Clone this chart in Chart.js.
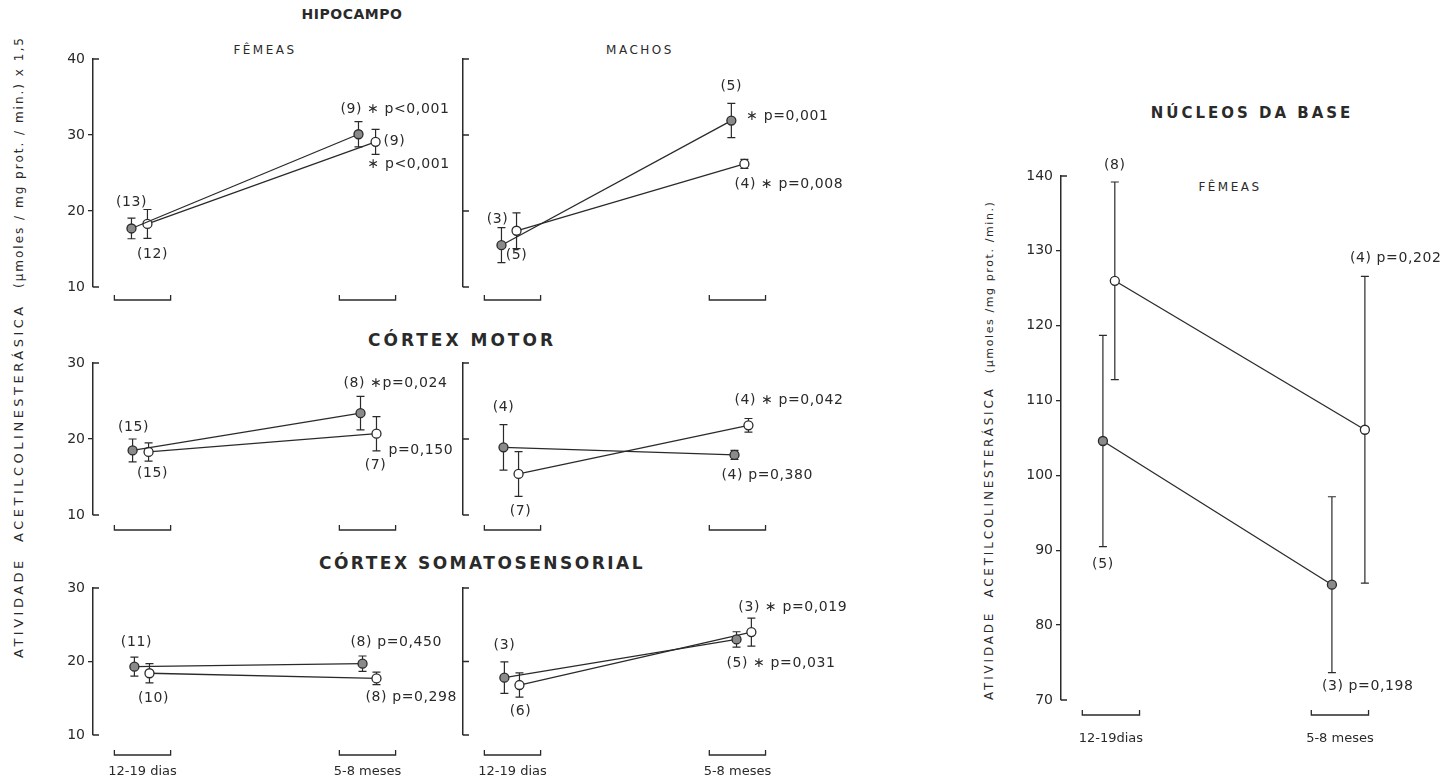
<!DOCTYPE html>
<html>
<head>
<meta charset="utf-8">
<script src="https://cdn.jsdelivr.net/npm/chart.js@4.4.0/dist/chart.umd.min.js"></script>
<style>
  body { margin: 0; background: #fff; width: 1448px; height: 783px; position: relative; overflow: hidden;
         font-family: "DejaVu Sans", sans-serif; color: #2a2a2a; }
  .titulo { position: absolute; transform: translate(-50%, -50%); white-space: nowrap; }
  .forte { font-weight: bold; }
  .eixo { position: absolute; transform-origin: 0 0; transform: rotate(-90deg); white-space: nowrap; }
</style>
</head>
<body>
<div class="titulo forte" style="left:352px;top:14px;font-size:14px;letter-spacing:0.5px">HIPOCAMPO</div>
<div class="titulo" style="left:265px;top:50px;font-size:12px;letter-spacing:2.5px">FÊMEAS</div>
<div class="titulo" style="left:640px;top:50px;font-size:12px;letter-spacing:2.5px">MACHOS</div>
<div class="titulo forte" style="left:462px;top:340px;font-size:17px;letter-spacing:3px">CÓRTEX MOTOR</div>
<div class="titulo forte" style="left:482px;top:563px;font-size:17px;letter-spacing:2.5px">CÓRTEX SOMATOSENSORIAL</div>
<div class="titulo forte" style="left:1252px;top:113px;font-size:15px;letter-spacing:3px">NÚCLEOS DA BASE</div>
<div class="titulo" style="left:1230px;top:187px;font-size:12px;letter-spacing:2.5px">FÊMEAS</div>
<div class="eixo" style="left:11px;top:658px;font-size:13px;letter-spacing:3.5px">ATIVIDADE&nbsp;&nbsp;ACETILCOLINESTERÁSICA&nbsp;&nbsp;<span style="font-size:12px;letter-spacing:2px">(µmoles / mg prot. / min.) x 1,5</span></div>
<div class="eixo" style="left:982px;top:700px;font-size:12px;letter-spacing:2.8px">ATIVIDADE&nbsp;&nbsp;ACETILCOLINESTERÁSICA&nbsp;&nbsp;<span style="font-size:11px;letter-spacing:1.6px">(µmoles /mg prot. /min.)</span></div>
<script>
// Idades (grupos do eixo x)
const idades = ['12-19 dias', '5-8 meses'];
const idadesNucleos = ['12-19dias', '5-8 meses'];

// Marcas dos eixos y
const ticksHipocampo = [10, 20, 30, 40];
const ticksCortex = [10, 20, 30];
const ticksNucleos = [70, 80, 90, 100, 110, 120, 130, 140];

// Hipocampo - fêmeas (cheio = círculo preenchido, aberto = círculo vazio)
const hipFemCheio = [17.7, 30.1];
const hipFemCheioEp = [1.35, 1.65];
const hipFemCheioN = [13, 9];
const hipFemCheioP = ['', '∗ p<0,001'];
const hipFemAberto = [18.3, 29.1];
const hipFemAbertoEp = [1.9, 1.65];
const hipFemAbertoN = [12, 9];
const hipFemAbertoP = ['', '∗ p<0,001'];

// Hipocampo - machos
const hipMacCheio = [15.5, 31.9];
const hipMacCheioEp = [2.3, 2.25];
const hipMacCheioN = [5, 5];
const hipMacCheioP = ['', '∗ p=0,001'];
const hipMacAberto = [17.4, 26.2];
const hipMacAbertoEp = [2.35, 0.6];
const hipMacAbertoN = [3, 4];
const hipMacAbertoP = ['', '∗ p=0,008'];

// Córtex motor - fêmeas
const motFemCheio = [18.5, 23.4];
const motFemCheioEp = [1.5, 2.2];
const motFemCheioN = [15, 8];
const motFemCheioP = ['', '∗p=0,024'];
const motFemAberto = [18.3, 20.7];
const motFemAbertoEp = [1.2, 2.25];
const motFemAbertoN = [15, 7];
const motFemAbertoP = ['', 'p=0,150'];

// Córtex motor - machos
const motMacCheio = [18.9, 17.9];
const motMacCheioEp = [3.0, 0.6];
const motMacCheioN = [4, 4];
const motMacCheioP = ['', 'p=0,380'];
const motMacAberto = [15.4, 21.8];
const motMacAbertoEp = [2.95, 0.9];
const motMacAbertoN = [7, 4];
const motMacAbertoP = ['', '∗ p=0,042'];

// Córtex somatosensorial - fêmeas
const somFemCheio = [19.3, 19.7];
const somFemCheioEp = [1.3, 1.05];
const somFemCheioN = [11, 8];
const somFemCheioP = ['', 'p=0,450'];
const somFemAberto = [18.4, 17.7];
const somFemAbertoEp = [1.3, 0.85];
const somFemAbertoN = [10, 8];
const somFemAbertoP = ['', 'p=0,298'];

// Córtex somatosensorial - machos
const somMacCheio = [17.8, 23.0];
const somMacCheioEp = [2.15, 1.05];
const somMacCheioN = [3, 5];
const somMacCheioP = ['', '∗ p=0,031'];
const somMacAberto = [16.8, 24.0];
const somMacAbertoEp = [1.65, 1.9];
const somMacAbertoN = [6, 3];
const somMacAbertoP = ['', '∗ p=0,019'];

// Núcleos da base - fêmeas
const nucCheio = [104.6, 85.4];
const nucCheioEp = [14.1, 11.75];
const nucCheioN = [5, 3];
const nucCheioP = ['', 'p=0,198'];
const nucAberto = [126.0, 106.1];
const nucAbertoEp = [13.2, 20.5];
const nucAbertoN = [8, 4];
const nucAbertoP = ['', 'p=0,202'];

const cor = '#2a2a2a';
const fonte = '"DejaVu Sans", sans-serif';

const serie = (media, ep, n, p, cheio, dx) => ({ media, ep, n, p, cheio, dx });

// Configuração de cada painel (posição na página, escala e rótulos)
const paineis = [
    {
        caixa: { x: 55, y: 40, w: 415, h: 275 }, eixoLarg: 38, pad: { top: 19, bottom: 28, right: 15 },
        xMin: 0.78, xMax: 2.389, ticks: ticksHipocampo, rotulosY: true, colchete: 13, idades: null,
        series: [
            serie(hipFemCheio, hipFemCheioEp, hipFemCheioN, hipFemCheioP, true, [-0.049, -0.04]),
            serie(hipFemAberto, hipFemAbertoEp, hipFemAbertoN, hipFemAbertoP, false, [0.022, 0.036])
        ],
        rotulos: [
            { s: 0, i: 0, k: 'n', dx: 0, dy: -26, al: 'center' },
            { s: 1, i: 0, k: 'n', dx: 5, dy: 30, al: 'center' },
            { s: 0, i: 1, k: 'np', dx: -18, dy: -25, al: 'left' },
            { s: 1, i: 1, k: 'n', dx: 8, dy: 0, al: 'left' },
            { s: 1, i: 1, k: 'p', dx: -8, dy: 23, al: 'left' }
        ]
    },
    {
        caixa: { x: 430, y: 40, w: 420, h: 275 }, eixoLarg: 33, pad: { top: 19, bottom: 28, right: 10 },
        xMin: 0.78, xMax: 2.456, ticks: ticksHipocampo, rotulosY: false, colchete: 13, idades: null,
        series: [
            serie(hipMacCheio, hipMacCheioEp, hipMacCheioN, hipMacCheioP, true, [-0.049, -0.027]),
            serie(hipMacAberto, hipMacAbertoEp, hipMacAbertoN, hipMacAbertoP, false, [0.018, 0.031])
        ],
        rotulos: [
            { s: 1, i: 0, k: 'n', dx: -19, dy: -11, al: 'center' },
            { s: 0, i: 0, k: 'n', dx: 15, dy: 10, al: 'center' },
            { s: 0, i: 1, k: 'n', dx: 0, dy: -34, al: 'center' },
            { s: 0, i: 1, k: 'p', dx: 15, dy: -4, al: 'left' },
            { s: 1, i: 1, k: 'np', dx: -10, dy: 20, al: 'left' }
        ]
    },
    {
        caixa: { x: 55, y: 350, w: 415, h: 190 }, eixoLarg: 38, pad: { top: 13, bottom: 25, right: 15 },
        xMin: 0.78, xMax: 2.389, ticks: ticksCortex, rotulosY: true, colchete: 15, idades: null,
        series: [
            serie(motFemCheio, motFemCheioEp, motFemCheioN, motFemCheioP, true, [-0.044, -0.031]),
            serie(motFemAberto, motFemAbertoEp, motFemAbertoN, motFemAbertoP, false, [0.027, 0.04])
        ],
        rotulos: [
            { s: 0, i: 0, k: 'n', dx: 1, dy: -23, al: 'center' },
            { s: 1, i: 0, k: 'n', dx: 4, dy: 21, al: 'center' },
            { s: 0, i: 1, k: 'np', dx: -17, dy: -30, al: 'left' },
            { s: 1, i: 1, k: 'p', dx: 12, dy: 17, al: 'left' },
            { s: 1, i: 1, k: 'n', dx: -1, dy: 32, al: 'center' }
        ]
    },
    {
        caixa: { x: 430, y: 350, w: 420, h: 190 }, eixoLarg: 33, pad: { top: 13, bottom: 25, right: 10 },
        xMin: 0.78, xMax: 2.456, ticks: ticksCortex, rotulosY: false, colchete: 15, idades: null,
        series: [
            serie(motMacCheio, motMacCheioEp, motMacCheioN, motMacCheioP, true, [-0.04, -0.013]),
            serie(motMacAberto, motMacAbertoEp, motMacAbertoN, motMacAbertoP, false, [0.027, 0.049])
        ],
        rotulos: [
            { s: 0, i: 0, k: 'n', dx: 0, dy: -40, al: 'center' },
            { s: 1, i: 0, k: 'n', dx: 2, dy: 37, al: 'center' },
            { s: 1, i: 1, k: 'np', dx: -14, dy: -25, al: 'left' },
            { s: 0, i: 1, k: 'np', dx: -13, dy: 20, al: 'left' }
        ]
    },
    {
        caixa: { x: 55, y: 575, w: 415, h: 208 }, eixoLarg: 38, pad: { top: 13, bottom: 48, right: 15 },
        xMin: 0.78, xMax: 2.389, ticks: ticksCortex, rotulosY: true, colchete: 20, idades: idades,
        series: [
            serie(somFemCheio, somFemCheioEp, somFemCheioN, somFemCheioP, true, [-0.036, -0.022]),
            serie(somFemAberto, somFemAbertoEp, somFemAbertoN, somFemAbertoP, false, [0.031, 0.04])
        ],
        rotulos: [
            { s: 0, i: 0, k: 'n', dx: 2, dy: -24, al: 'center' },
            { s: 1, i: 0, k: 'n', dx: 4, dy: 25, al: 'center' },
            { s: 0, i: 1, k: 'np', dx: -12, dy: -21, al: 'left' },
            { s: 1, i: 1, k: 'np', dx: -11, dy: 19, al: 'left' }
        ]
    },
    {
        caixa: { x: 430, y: 575, w: 420, h: 208 }, eixoLarg: 33, pad: { top: 13, bottom: 48, right: 10 },
        xMin: 0.78, xMax: 2.456, ticks: ticksCortex, rotulosY: false, colchete: 20, idades: idades,
        series: [
            serie(somMacCheio, somMacCheioEp, somMacCheioN, somMacCheioP, true, [-0.036, -0.004]),
            serie(somMacAberto, somMacAbertoEp, somMacAbertoN, somMacAbertoP, false, [0.031, 0.062])
        ],
        rotulos: [
            { s: 0, i: 0, k: 'n', dx: 0, dy: -32, al: 'center' },
            { s: 1, i: 0, k: 'n', dx: 1, dy: 26, al: 'center' },
            { s: 1, i: 1, k: 'np', dx: -13, dy: -25, al: 'left' },
            { s: 0, i: 1, k: 'np', dx: -10, dy: 24, al: 'left' }
        ]
    },
    {
        caixa: { x: 1005, y: 100, w: 443, h: 683 }, eixoLarg: 56, pad: { top: 76, bottom: 83, right: 8 },
        xMin: 0.782, xMax: 2.437, ticks: ticksNucleos, rotulosY: true, colchete: 15, idades: idadesNucleos,
        idadesDy: 24,
        series: [
            serie(nucCheio, nucCheioEp, nucCheioN, nucCheioP, true, [-0.035, -0.035]),
            serie(nucAberto, nucAbertoEp, nucAbertoN, nucAbertoP, false, [0.017, 0.109])
        ],
        rotulos: [
            { s: 1, i: 0, k: 'n', at: 'hi', dx: 0, dy: -17, al: 'center' },
            { s: 0, i: 0, k: 'n', at: 'lo', dx: 0, dy: 18, al: 'center' },
            { s: 1, i: 1, k: 'np', at: 'hi', dx: -15, dy: -18, al: 'left' },
            { s: 0, i: 1, k: 'np', at: 'lo', dx: -10, dy: 14, al: 'left' }
        ]
    }
];

// Barras de erro, colchetes dos eixos e textos
const pluginPainel = p => ({
    id: 'painel',
    beforeDatasetsDraw(chart) {
        const { ctx, scales: { x, y } } = chart;
        ctx.save();
        ctx.strokeStyle = cor;
        ctx.lineWidth = 1.2;
        p.series.forEach(s => s.media.forEach((v, i) => {
            const px = x.getPixelForValue(i + 1 + s.dx[i]);
            const yt = y.getPixelForValue(v + s.ep[i]);
            const yb = y.getPixelForValue(v - s.ep[i]);
            ctx.beginPath();
            ctx.moveTo(px, yt); ctx.lineTo(px, yb);
            ctx.moveTo(px - 4, yt); ctx.lineTo(px + 4, yt);
            ctx.moveTo(px - 4, yb); ctx.lineTo(px + 4, yb);
            ctx.stroke();
        }));
        ctx.restore();
    },
    afterDraw(chart) {
        const { ctx, chartArea: a, scales: { x, y } } = chart;
        const t = p.ticks;
        ctx.save();
        ctx.strokeStyle = cor;
        ctx.fillStyle = cor;
        ctx.lineWidth = 1.3;

        // pontas do eixo y viradas para dentro
        ctx.beginPath();
        [t[0], t[t.length - 1]].forEach(v => {
            const py = y.getPixelForValue(v);
            ctx.moveTo(a.left, py); ctx.lineTo(a.left + 6, py);
        });
        if (!p.rotulosY) {
            t.slice(1, -1).forEach(v => {
                const py = y.getPixelForValue(v);
                ctx.moveTo(a.left, py); ctx.lineTo(a.left + 6, py);
            });
        }
        ctx.stroke();

        // colchetes de cada idade
        const yc = a.bottom + p.colchete;
        ctx.beginPath();
        [1, 2].forEach(g => {
            const x0 = x.getPixelForValue(g - 0.125);
            const x1 = x.getPixelForValue(g + 0.125);
            ctx.moveTo(x0, yc - 5); ctx.lineTo(x0, yc); ctx.lineTo(x1, yc); ctx.lineTo(x1, yc - 5);
        });
        ctx.stroke();

        ctx.textBaseline = 'middle';
        if (p.idades) {
            ctx.font = '13px ' + fonte;
            ctx.textAlign = 'center';
            p.idades.forEach((txt, i) => ctx.fillText(txt, x.getPixelForValue(i + 1), yc + (p.idadesDy || 17)));
        }

        // número de animais e valores de p
        ctx.font = '14px ' + fonte;
        ctx.letterSpacing = '0.6px';
        p.rotulos.forEach(r => {
            const s = p.series[r.s];
            const v = s.media[r.i];
            const ref = r.at === 'hi' ? v + s.ep[r.i] : r.at === 'lo' ? v - s.ep[r.i] : v;
            const px = x.getPixelForValue(r.i + 1 + s.dx[r.i]) + r.dx;
            const py = y.getPixelForValue(ref) + r.dy;
            const txt = r.k === 'n' ? `(${s.n[r.i]})` : r.k === 'p' ? s.p[r.i] : `(${s.n[r.i]}) ${s.p[r.i]}`;
            ctx.textAlign = r.al;
            ctx.fillText(txt, px, py);
        });
        ctx.restore();
    }
});

const criarPainel = p => {
    const canvas = document.createElement('canvas');
    canvas.width = p.caixa.w;
    canvas.height = p.caixa.h;
    canvas.style.cssText = `position:absolute;left:${p.caixa.x}px;top:${p.caixa.y}px;width:${p.caixa.w}px;height:${p.caixa.h}px`;
    document.body.appendChild(canvas);

    const yMin = p.ticks[0];
    const yMax = p.ticks[p.ticks.length - 1];
    const interno = v => v !== yMin && v !== yMax;

    const datasets = p.series.map(s => ({
        data: s.media.map((v, i) => ({ x: i + 1 + s.dx[i], y: v })),
        showLine: true,
        borderColor: cor,
        borderWidth: 1.3,
        pointRadius: 4.5,
        pointBackgroundColor: s.cheio ? '#8a8a8a' : '#ffffff',
        pointBorderColor: cor,
        pointBorderWidth: 1.3
    }));

    return new Chart(canvas, {
        type: 'scatter',
        data: { datasets },
        options: {
            responsive: false,
            animation: false,
            events: [],
            layout: { padding: { left: 0, top: p.pad.top, bottom: p.pad.bottom, right: p.pad.right } },
            plugins: { legend: { display: false }, tooltip: { enabled: false } },
            scales: {
                x: { type: 'linear', display: false, min: p.xMin, max: p.xMax },
                y: {
                    type: 'linear',
                    min: yMin,
                    max: yMax,
                    afterBuildTicks: scale => { scale.ticks = p.ticks.map(v => ({ value: v })); },
                    afterFit: scale => { scale.width = p.eixoLarg; },
                    border: { display: true, color: cor, width: 1.5 },
                    grid: {
                        drawOnChartArea: false,
                        drawTicks: p.rotulosY,
                        tickLength: 5,
                        lineWidth: 1.3,
                        color: ctx => (ctx.tick && interno(ctx.tick.value)) ? cor : 'rgba(0,0,0,0)'
                    },
                    ticks: {
                        display: p.rotulosY,
                        padding: 3,
                        color: cor,
                        font: { family: fonte, size: 14 }
                    }
                }
            }
        },
        plugins: [pluginPainel(p)]
    });
};

paineis.forEach(criarPainel);
</script>
</body>
</html>
